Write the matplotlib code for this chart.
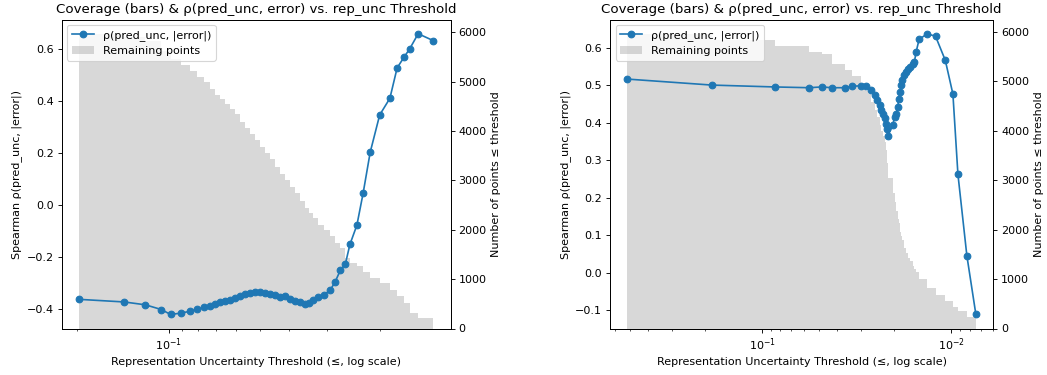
import numpy as np
import matplotlib
matplotlib.use("Agg")
import matplotlib.pyplot as plt

# ---- data ----
# left panel
thr_left = [0.197, 0.140, 0.1192, 0.1057, 0.0985, 0.0913, 0.0852, 0.0805, 0.0763, 0.0731,
            0.0704, 0.0678, 0.0653, 0.0628, 0.0605, 0.0582, 0.0560, 0.0539, 0.0519, 0.0500,
            0.0481, 0.0463, 0.0446, 0.0429, 0.0413, 0.0397, 0.0383, 0.0368, 0.0355, 0.0345,
            0.0333, 0.0320, 0.0308, 0.0293, 0.0282, 0.0271, 0.0261, 0.0252, 0.0239, 0.0228,
            0.0216, 0.0201, 0.0186, 0.0176, 0.0167, 0.0160, 0.0150, 0.0134]
rho_left = [-0.362, -0.372, -0.383, -0.401, -0.420, -0.415, -0.408, -0.400, -0.393, -0.387,
            -0.380, -0.374, -0.368, -0.363, -0.357, -0.350, -0.343, -0.338, -0.333, -0.333,
            -0.336, -0.340, -0.346, -0.354, -0.351, -0.362, -0.367, -0.372, -0.378, -0.377,
            -0.365, -0.353, -0.346, -0.327, -0.295, -0.250, -0.227, -0.151, -0.077, 0.045,
            0.203, 0.346, 0.410, 0.527, 0.568, 0.600, 0.658, 0.632]
count_left = [5960, 5900, 5830, 5630, 5460, 5350, 5225, 5105, 4990, 4855,
              4740, 4655, 4555, 4450, 4340, 4185, 4060, 3950, 3830, 3680,
              3560, 3425, 3275, 3140, 3005, 2870, 2740, 2585, 2435, 2350,
              2235, 2100, 2000, 1865, 1730, 1630, 1425, 1325, 1260, 1155,
              1020, 920, 785, 650, 520, 315, 215, 150]

# right panel
thr_right = [0.515, 0.184, 0.0854, 0.0564, 0.0485, 0.0427, 0.0366, 0.0335, 0.0299, 0.0281,
             0.02646, 0.02543, 0.0246, 0.02393, 0.02344, 0.0230, 0.02253, 0.02207, 0.0218, 0.02164,
             0.02037, 0.01995, 0.01954, 0.01917, 0.01894, 0.01855, 0.01839, 0.01817, 0.01768, 0.01731,
             0.01684, 0.01643, 0.01598, 0.01566, 0.01534, 0.01479, 0.01338, 0.0121, 0.01075, 0.0098,
             0.00922, 0.00827, 0.00741]
rho_right = [0.517, 0.501, 0.496, 0.494, 0.496, 0.494, 0.494, 0.498, 0.499, 0.498,
             0.487, 0.474, 0.461, 0.447, 0.434, 0.425, 0.412, 0.398, 0.385, 0.366,
             0.394, 0.416, 0.425, 0.443, 0.465, 0.483, 0.501, 0.514, 0.527, 0.536,
             0.545, 0.549, 0.558, 0.563, 0.589, 0.623, 0.638, 0.631, 0.567, 0.477,
             0.263, 0.046, -0.111]
count_right = [5950, 5840, 5711, 5600, 5560, 5361, 5224, 5103, 4960, 4800,
               4580, 4420, 4280, 4120, 4000, 3900, 3780, 3620, 3350, 3050,
               2750, 2560, 2380, 2220, 2130, 1950, 1880, 1800, 1620, 1530,
               1430, 1370, 1270, 1200, 1140, 1000, 810, 680, 560, 440,
               350, 230, 150]

TITLE = "Coverage (bars) & ρ(pred_unc, error) vs. rep_unc Threshold"


def draw_panel(ax, thr, rho, counts):
    thr = np.asarray(thr)
    counts = np.asarray(counts)
    ax2 = ax.twinx()

    # coverage bars, each spanning one threshold to the next
    ax2.bar(thr[:-1], counts[:-1], width=np.diff(thr), align="edge",
            color="gray", alpha=0.3, label="Remaining points")
    ax2.set_ylabel("Number of points ≤ threshold")

    ax.plot(thr, rho, marker="o", color="#1f77b4",
            label="ρ(pred_unc, |error|)")
    ax.set_xscale("log")
    ax.invert_xaxis()
    ax.set_xlabel("Representation Uncertainty Threshold (≤, log scale)")
    ax.set_ylabel("Spearman ρ(pred_unc, |error|)")
    ax.set_title(TITLE, fontsize=12)

    # keep the line above the bars
    ax.set_zorder(ax2.get_zorder() + 1)
    ax.patch.set_visible(False)

    h1, l1 = ax.get_legend_handles_labels()
    h2, l2 = ax2.get_legend_handles_labels()
    ax.legend(h1 + h2, l1 + l2, loc="upper left")


W, H, DPI = 1047, 375, 80
fig = plt.figure(figsize=(W / DPI, H / DPI), dpi=DPI)
ax_l = fig.add_axes([61.7 / W, 1 - 328.5 / H, (450.7 - 61.7) / W, (328.5 - 19.7) / H])
ax_r = fig.add_axes([610 / W, 1 - 328.5 / H, (993.3 - 610) / W, (328.5 - 19.7) / H])

draw_panel(ax_l, thr_left, rho_left, count_left)
draw_panel(ax_r, thr_right, rho_right, count_right)

fig.savefig("out.png", dpi=DPI)
plt.close(fig)
